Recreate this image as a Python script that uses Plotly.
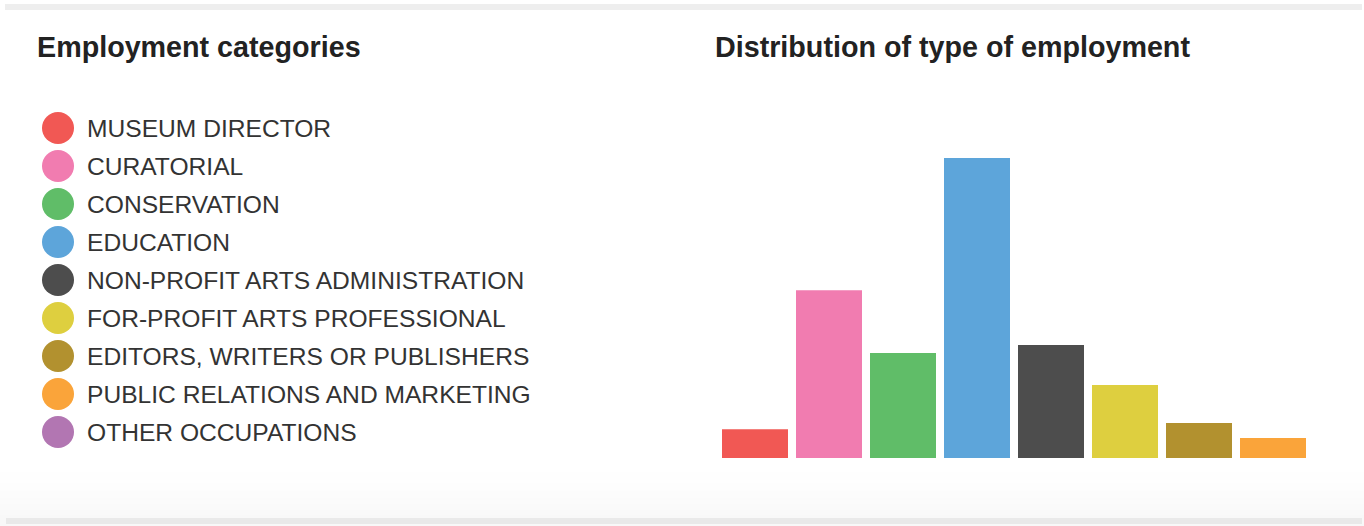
import plotly.graph_objects as go

W, H = 1364, 526

categories = [
    "MUSEUM DIRECTOR",
    "CURATORIAL",
    "CONSERVATION",
    "EDUCATION",
    "NON-PROFIT ARTS ADMINISTRATION",
    "FOR-PROFIT ARTS PROFESSIONAL",
    "EDITORS, WRITERS OR PUBLISHERS",
    "PUBLIC RELATIONS AND MARKETING",
    "OTHER OCCUPATIONS",
]
values = [28.7, 167.7, 105, 300, 113, 73, 35, 20, 0]
colors = ["#F15854", "#F17CB0", "#60BD68", "#5DA5DA", "#4D4D4D",
          "#DECF3F", "#B2912F", "#FAA43A", "#B276B2"]

left_title = "Employment categories"
right_title = "Distribution of type of employment"


def px_x(px):
    return px / W


def px_y(px):
    return 1 - px / H


fig = go.Figure()

# Bar chart
fig.add_trace(go.Bar(
    x=categories, y=values,
    marker=dict(color=colors, line=dict(width=0)),
    xaxis="x", yaxis="y", hoverinfo="x+y", showlegend=False,
))

# Legend markers (left panel), axis in pixel units
row_y = [128 + 38 * i for i in range(len(categories))]
fig.add_trace(go.Scatter(
    x=[58] * len(categories), y=row_y, mode="markers",
    marker=dict(size=32, color=colors, line=dict(width=0)),
    xaxis="x2", yaxis="y2", hoverinfo="skip", showlegend=False,
))

annotations = []
for cat, yy in zip(categories, row_y):
    annotations.append(dict(
        x=85, y=yy + 0.5, xref="x2", yref="y2", text=cat, showarrow=False,
        xanchor="left", yanchor="middle",
        font=dict(family="Liberation Sans, Arial, sans-serif", size=24.6, color="#333333"),
    ))

annotations.append(dict(
    x=px_x(35), y=px_y(47), xref="paper", yref="paper", text="<b>%s</b>" % left_title,
    showarrow=False, xanchor="left", yanchor="middle",
    font=dict(family="Liberation Sans, Arial, sans-serif", size=28.7, color="#222222"),
))
annotations.append(dict(
    x=px_x(713), y=px_y(47), xref="paper", yref="paper", text="<b>%s</b>" % right_title,
    showarrow=False, xanchor="left", yanchor="middle",
    font=dict(family="Liberation Sans, Arial, sans-serif", size=28.7, color="#222222"),
))

shapes = []
# subtle bottom gradient (smooth, 1px steps)
g0, g1 = 462, 518
for yy in range(g0, g1):
    t = (yy - g0 + 1) / (g1 - g0)
    c = int(round(255 - 7 * t ** 1.6))
    shapes.append(dict(type="rect", xref="paper", yref="paper",
                       x0=0, x1=1, y0=px_y(yy + 1), y1=px_y(yy),
                       fillcolor="rgb(%d,%d,%d)" % (c, c, c), line=dict(width=0),
                       layer="below"))
shapes.append(dict(type="rect", xref="paper", yref="paper",
                   x0=0, x1=1, y0=0, y1=px_y(518),
                   fillcolor="#F8F8F8", line=dict(width=0), layer="below"))
# top and bottom gray strips
shapes.append(dict(type="rect", xref="paper", yref="paper",
                   x0=px_x(5), x1=px_x(1362), y0=px_y(10), y1=px_y(4),
                   fillcolor="#EEEEEE", line=dict(width=0), layer="below"))
shapes.append(dict(type="rect", xref="paper", yref="paper",
                   x0=px_x(6), x1=px_x(1362), y0=px_y(524), y1=px_y(518),
                   fillcolor="#E9E9E9", line=dict(width=0), layer="below"))

fig.update_layout(
    width=W, height=H,
    margin=dict(l=0, r=0, t=0, b=0),
    paper_bgcolor="white", plot_bgcolor="rgba(0,0,0,0)",
    bargap=8 / 74,
    xaxis=dict(domain=[px_x(718), px_x(1310)], range=[-0.5, 7.5], visible=False,
               fixedrange=True),
    yaxis=dict(domain=[px_y(458), px_y(138)], range=[0, 320], visible=False,
               fixedrange=True),
    xaxis2=dict(domain=[0, px_x(690)], range=[0, 690], visible=False, anchor="y2"),
    yaxis2=dict(domain=[0, 1], range=[526, 0], visible=False, anchor="x2"),
    annotations=annotations,
    shapes=shapes,
    showlegend=False,
)

fig.write_html(
    "out.html",
    config={"displayModeBar": False},
    post_script="document.body.style.margin='0';document.body.style.overflow='hidden';",
)
